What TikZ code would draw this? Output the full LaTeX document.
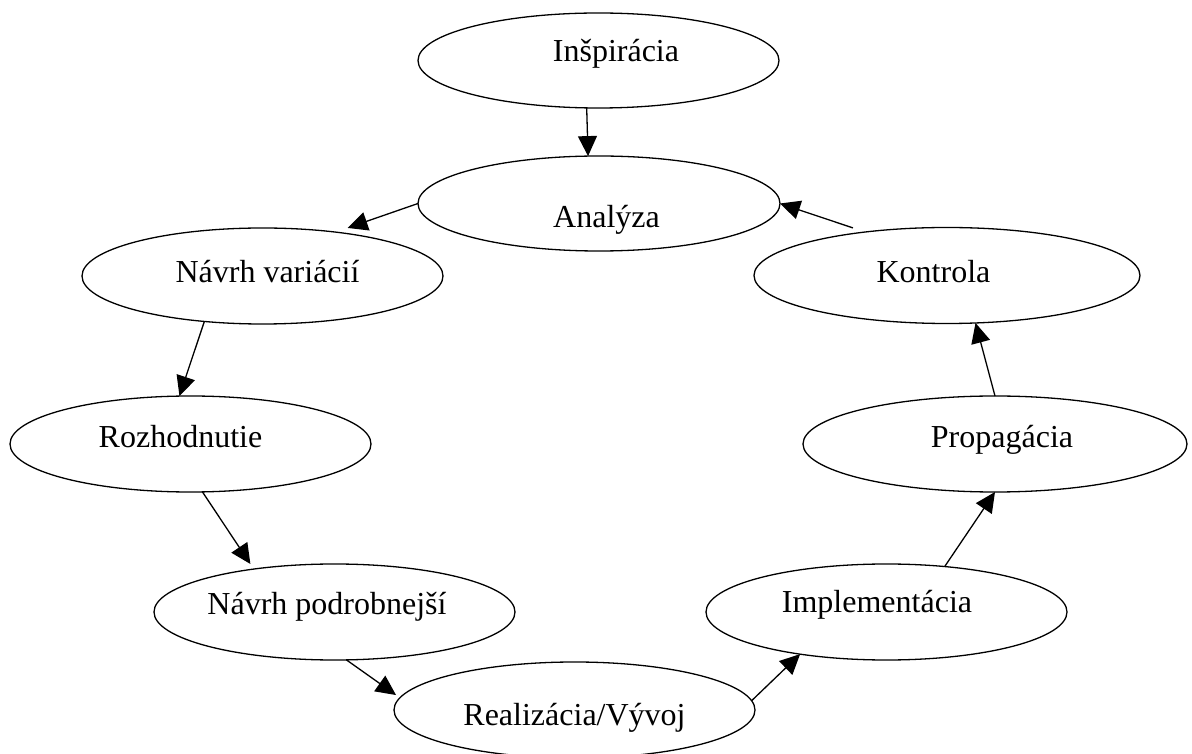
\documentclass[tikz,border=0pt]{standalone}
\usepackage{fontspec}
\setmainfont{Liberation Serif}
\usetikzlibrary{shapes.geometric,arrows.meta}
\tikzset{
  oval/.style={draw=black, line width=1.3pt, shape=ellipse, inner sep=0pt, outer sep=0pt, minimum height=96pt},
  lbl/.style={inner sep=0pt, anchor=base, font=\fontsize{32}{38}\selectfont},
  arr/.style={line width=1.3pt, -{Triangle[length=20pt,width=19pt]}}
}
\begin{document}
\begin{tikzpicture}[x=1pt,y=1pt]
\useasboundingbox (0,0) rectangle (1192,753);
% ellipses
\node[oval, minimum width=361pt, minimum height=95pt] (insp) at (598.5,692.5) {};
\node[oval, minimum width=362pt, minimum height=95pt] (anal) at (599,549.5) {};
\node[oval, minimum width=361pt] (navv) at (262.5,477) {};
\node[oval, minimum width=386pt] (kont) at (947,477.5) {};
\node[oval, minimum width=361pt] (rozh) at (190.5,309) {};
\node[oval, minimum width=384pt] (prop) at (995,309) {};
\node[oval, minimum width=361pt] (navp) at (334.5,141) {};
\node[oval, minimum width=361pt] (impl) at (886.5,141) {};
\node[oval, minimum width=361pt] (real) at (574.5,43) {};
% labels
\node[lbl] (insp-t) at (616,691) {Inšpirácia};
\node[lbl] (anal-t) at (606.5,525) {Analýza};
\node[lbl] (navv-t) at (267.5,470) {Návrh variácií};
\node[lbl] (kont-t) at (933.5,470) {Kontrola};
\node[lbl] (rozh-t) at (180.5,305) {Rozhodnutie};
\node[lbl] (prop-t) at (1002,305) {Propagácia};
\node[lbl] (navp-t) at (327,139) {Návrh podrobnejší};
\node[lbl] (impl-t) at (877,140) {Implementácia};
\node[lbl] (real-t) at (574.5,28) {Realizácia/Vývoj};
% connectors
\draw[arr] (insp.256.4) -- (anal.103.9);
\draw[arr, shorten >=12.7pt] (anal.180) -- (navv.31.2);
\draw[arr] (navv.218.3) -- (rozh.103.5);
\draw[arr, shorten >=6.1pt] (rozh.284.6) -- (navp.152.2);
\draw[arr, shorten >=4.8pt] (navp.284.6) -- (real.176.4);
\draw[arr] (real.3.2) -- (impl.206.4);
\draw[arr] (impl.38.4) -- (prop.270);
\draw[arr] (prop.90) -- (kont.301.2);
\draw[arr, shorten <=13pt] (kont.152.3) -- (anal.0);
\end{tikzpicture}
\end{document}
